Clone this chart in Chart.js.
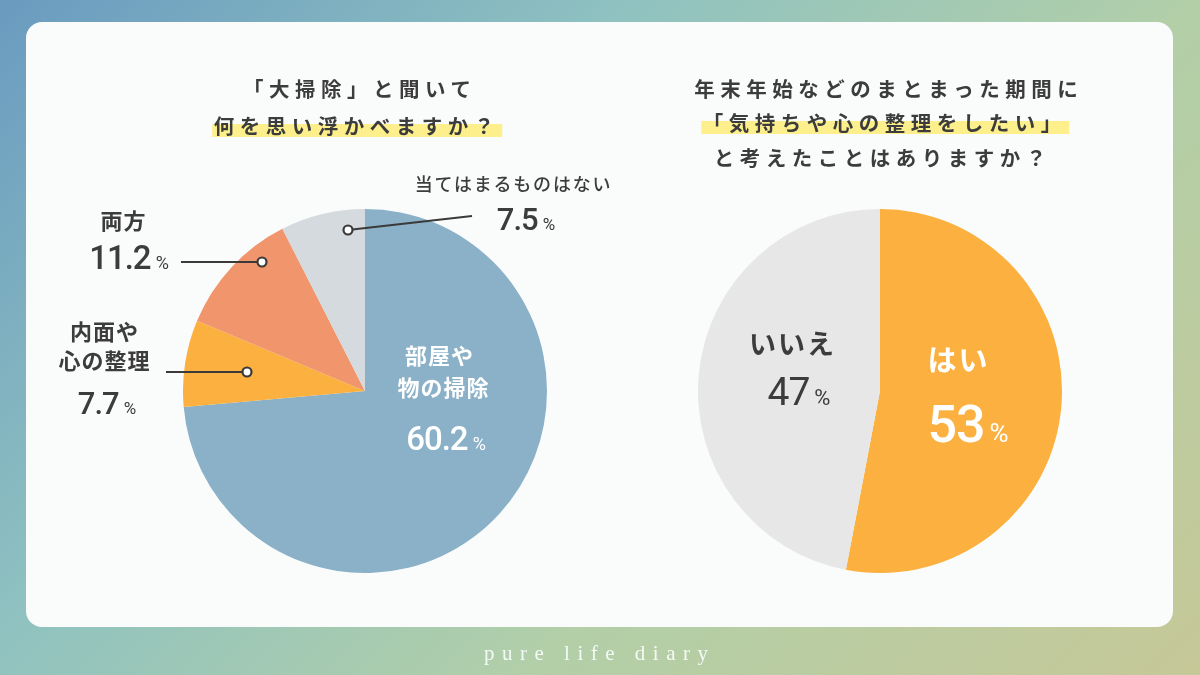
<!DOCTYPE html>
<html lang="ja">
<head>
<meta charset="utf-8">
<script src="https://cdn.jsdelivr.net/npm/chart.js@4.4.0/dist/chart.umd.min.js"></script>
<style>
  html, body { margin:0; padding:0; }
  body {
    width:1200px; height:675px; overflow:hidden; position:relative;
    background: linear-gradient(135deg, #6A9BC0 0%, #8FC2C0 34%, #B2CFA8 64%, #C6C898 100%);
    font-family: "Noto Sans CJK JP", "Noto Sans", sans-serif;
    color:#3c3c3c;
  }
  #card {
    position:absolute; left:26px; top:22px; width:1147px; height:605px;
    background:#FAFBFB; border-radius:16px;
  }
  .box { position:absolute; }
  .t { position:absolute; transform:translate(-50%,-50%); white-space:nowrap; line-height:1; }
  .title { font-weight:700; font-size:20.5px; letter-spacing:5.5px; padding-left:5.5px; color:#3c3c3c; }
  .hl { background: linear-gradient(transparent 48%, #FCEF8C 48%, #FCEF8C 92%, transparent 92%); padding:0 2px; }
  .lab { font-weight:700; font-size:22px; letter-spacing:1px; padding-left:1px; color:#3c3c3c; }
  .num { font-family: Roboto, "Noto Sans", sans-serif; font-weight:500; letter-spacing:-1px; }
  .num.light { font-weight:400; }
  .pct { font-family: Roboto, "Noto Sans", sans-serif; font-weight:400; margin-left:5px; }
  .white { color:#FFFFFF; }
  .footer { font-family:"Liberation Serif","DejaVu Serif",serif; font-size:21px; letter-spacing:7.5px; padding-left:7.5px; color:#F4FAF6; }
  svg { position:absolute; left:0; top:0; }
</style>
</head>
<body>
<div id="card"></div>
<div class="box" id="leftBox" style="left:183px; top:209px; width:364px; height:364px;"><canvas id="leftPie"></canvas></div>
<div class="box" id="rightBox" style="left:698px; top:209px; width:364px; height:364px;"><canvas id="rightPie"></canvas></div>
<svg id="leaders" width="1200" height="675"></svg>
<div id="texts"></div>
<script>
// ---- Data ----
const leftTitle = ["「大掃除」と聞いて", "何を思い浮かべますか？"];
const rightTitle = ["年末年始などのまとまった期間に", "「気持ちや心の整理をしたい」", "と考えたことはありますか？"];
const leftCategories = ["部屋や物の掃除", "内面や心の整理", "両方", "当てはまるものはない"];
const leftValues = [73.6, 7.7, 11.2, 7.5];          // slice sizes as drawn
const leftPercentLabels = ["60.2", "7.7", "11.2", "7.5"]; // printed percentages
const leftColors = ["#8AB1C8", "#FBB03F", "#F0956C", "#D4DADD"];
const rightCategories = ["はい", "いいえ"];
const rightValues = [53, 47];
const rightPercentLabels = ["53", "47"];
const rightColors = ["#FBB03F", "#E7E7E7"];
const footerText = "pure life diary";

// ---- Charts ----
function pie(id, values, colors, labels) {
  return new Chart(document.getElementById(id), {
    type: 'pie',
    data: { labels: labels, datasets: [{ data: values, backgroundColor: colors, borderWidth: 0, hoverOffset: 0 }] },
    options: {
      responsive: true, maintainAspectRatio: false, animation: false, events: [],
      layout: { padding: 0 },
      plugins: { legend: { display: false }, tooltip: { enabled: false } }
    }
  });
}
pie('leftPie', leftValues, leftColors, leftCategories);
pie('rightPie', rightValues, rightColors, rightCategories);

// ---- Text ----
const T = document.getElementById('texts');
function put(x, y, html, cls, style) {
  const d = document.createElement('div');
  d.className = 't ' + (cls || '');
  d.style.left = x + 'px'; d.style.top = y + 'px';
  if (style) d.style.cssText += style;
  d.innerHTML = html;
  T.appendChild(d);
  return d;
}
function numHtml(n, nsize, psize, extra) {
  return '<span class="num ' + (extra || '') + '" style="font-size:' + nsize + 'px">' + n + '</span><span class="pct" style="font-size:' + psize + 'px">%</span>';
}
// titles
put(357, 88, leftTitle[0], 'title');
put(354, 125, '<span class="hl">' + leftTitle[1] + '</span>', 'title');
put(886, 88, rightTitle[0], 'title');
put(882, 122, '<span class="hl">' + rightTitle[1] + '</span>', 'title');
put(880, 157, rightTitle[2], 'title');

// left labels
put(513, 183, leftCategories[3], 'lab', 'font-size:18px;font-weight:500;letter-spacing:1.8px;');
put(526, 219, numHtml(leftPercentLabels[3], 31, 17), '');
put(123, 219, leftCategories[2], 'lab');
put(129, 257, numHtml(leftPercentLabels[2], 33, 18), '');
put(104, 330, '内面や', 'lab');
put(104, 359, '心の整理', 'lab');
put(107, 403, numHtml(leftPercentLabels[1], 31, 17), '');
put(439, 354, '部屋や', 'lab white');
put(443, 386, '物の掃除', 'lab white');
put(446, 438, numHtml(leftPercentLabels[0], 33, 18), 'white');

// right labels
put(792, 342, rightCategories[1], 'lab', 'font-size:27px;letter-spacing:2px;');
put(799, 392, numHtml(rightPercentLabels[1], 39, 22, 'light'), '');
put(958, 358, rightCategories[0], 'lab white', 'font-size:29px;letter-spacing:2px;');
put(968, 425, numHtml(rightPercentLabels[0], 52, 26), 'white');

// footer
put(596, 653, footerText, 'footer');

// ---- Leader lines ----
const svg = document.getElementById('leaders');
const leaders = [
  { x1: 472, y1: 216, x2: 348, y2: 230 },
  { x1: 181, y1: 262, x2: 262, y2: 262 },
  { x1: 166, y1: 372, x2: 247, y2: 372 }
];
let s = '';
leaders.forEach(l => {
  s += '<line x1="' + l.x1 + '" y1="' + l.y1 + '" x2="' + l.x2 + '" y2="' + l.y2 + '" stroke="#3a3a3a" stroke-width="2"/>';
  s += '<circle cx="' + l.x2 + '" cy="' + l.y2 + '" r="4.5" fill="#FFFFFF" stroke="#3a3a3a" stroke-width="2.2"/>';
});
svg.innerHTML = s;
</script>
</body>
</html>
